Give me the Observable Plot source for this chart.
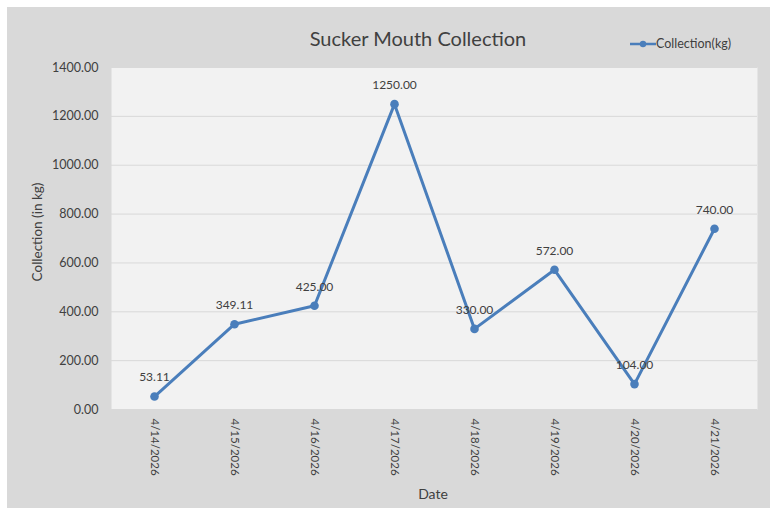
<!DOCTYPE html>
<html>
<head>
<meta charset="utf-8">
<script src="https://cdn.jsdelivr.net/npm/d3@7"></script>
<script src="https://cdn.jsdelivr.net/npm/@observablehq/plot@0.6"></script>
<style>
  html, body { margin: 0; padding: 0; background: #ffffff; }
  #wrap { position: relative; width: 776px; height: 515px; font-family: Lato, "Open Sans", sans-serif; }
  #bg { position: absolute; left: 7px; top: 7px; width: 763px; height: 501px; background: #d9d9d9; }
  #chart { position: absolute; left: 0; top: 0; }
  .t { position: absolute; color: #404040; white-space: nowrap; }
  #title { left: 0; width: 836px; top: 26px; text-align: center; font-size: 20px; color: #404040; }
  #ylab { left: 37px; top: 232px; font-size: 13.5px; transform: translate(-50%, -50%) rotate(-90deg); }
  #xlab { left: 433px; top: 493px; font-size: 14px; transform: translate(-50%, -50%); }
  #legend { left: 630px; top: 36px; font-size: 12.5px; display: flex; align-items: center; }
</style>
</head>
<body>
<div id="wrap">
  <div id="bg"></div>
  <div id="chart"></div>
  <div class="t" id="title">Sucker Mouth Collection</div>
  <div class="t" id="ylab">Collection (in kg)</div>
  <div class="t" id="xlab">Date</div>
  <div class="t" id="legend"><svg width="26" height="10"><line x1="0" y1="5" x2="26" y2="5" stroke="#4a7ebb" stroke-width="2.5"/><circle cx="13" cy="5" r="3.2" fill="#4a7ebb"/></svg><span>Collection(kg)</span></div>
</div>
<script>
const dates = ["4/14/2026", "4/15/2026", "4/16/2026", "4/17/2026", "4/18/2026", "4/19/2026", "4/20/2026", "4/21/2026"];
const collection = [53.11, 349.11, 425.00, 1250.00, 330.00, 572.00, 104.00, 740.00];
const yTicks = [0, 200, 400, 600, 800, 1000, 1200, 1400];

const data = dates.map((d, i) => ({date: d, value: collection[i]}));
const blue = "#4a7ebb";

const chart = Plot.plot({
  width: 776,
  height: 515,
  marginLeft: 111,
  marginRight: 19,
  marginTop: 67,
  marginBottom: 106,
  style: { background: "transparent", fontFamily: "Lato, 'Open Sans', sans-serif", fontSize: "11px", color: "#404040" },
  x: { type: "point", domain: dates, padding: 0.5 },
  y: { domain: [0, 1400], ticks: yTicks },
  marks: [
    Plot.frame({ fill: "#f2f2f2", stroke: null }),
    Plot.gridY(yTicks, { stroke: "#d9d9d9", strokeOpacity: 1, strokeWidth: 1 }),
    Plot.axisY(yTicks, { tickSize: 0, tickPadding: 13, tickFormat: d => d.toFixed(2), label: null, fontSize: 12.5, fill: "#404040" }),
    Plot.axisX({ tickSize: 0, tickPadding: 9, tickRotate: 90, label: null, fontSize: 11.5, fill: "#404040" }),
    Plot.line(data, { x: "date", y: "value", stroke: blue, strokeWidth: 3 }),
    Plot.dot(data, { x: "date", y: "value", r: 4.3, fill: blue }),
    Plot.text(data, { x: "date", y: "value", text: d => d.value.toFixed(2), dy: -19, fontSize: 12, fill: "#404040" })
  ]
});
document.getElementById("chart").appendChild(chart);
</script>
</body>
</html>
